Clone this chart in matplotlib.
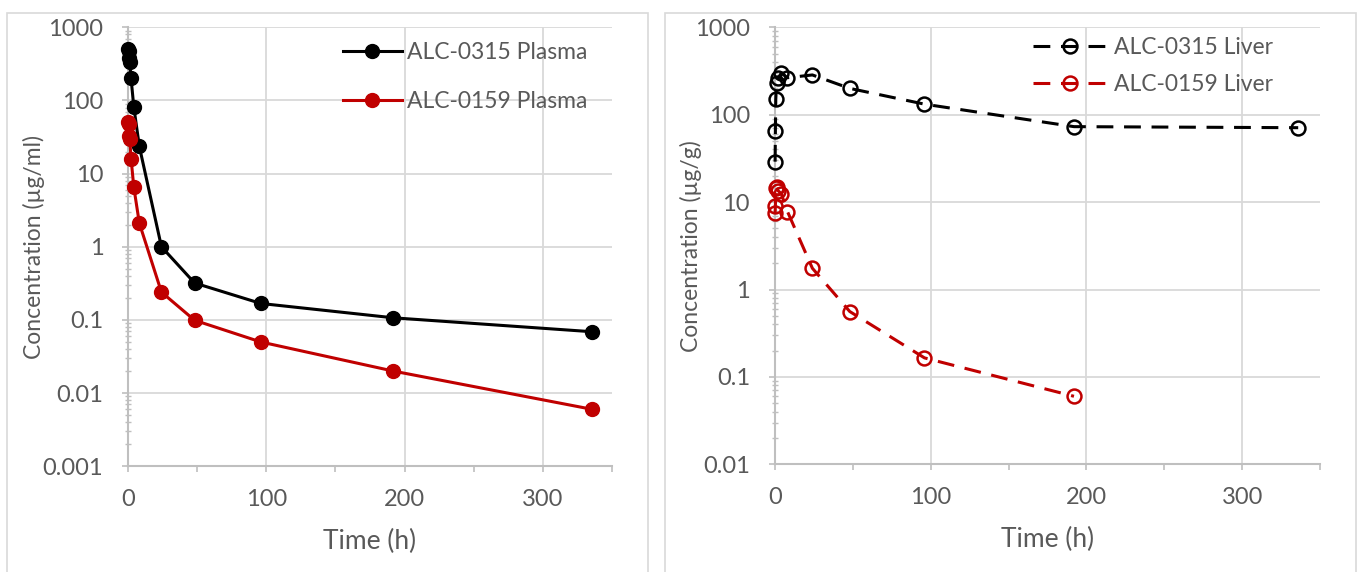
import matplotlib.pyplot as plt
from matplotlib.patches import Rectangle
from matplotlib.ticker import FixedLocator, LogLocator, NullFormatter, FuncFormatter

plt.rcParams['font.family'] = ['Lato', 'DejaVu Sans']

# --- data ---
# plasma, µg/ml
t_plasma = [0.08, 0.25, 0.5, 1, 2, 4, 8, 24, 48, 96, 192, 336]
alc0315_plasma = [500, 470, 380, 340, 200, 81, 23.5, 1.0, 0.32, 0.168, 0.107, 0.069]
alc0159_plasma = [50, 48, 33, 30, 16, 6.5, 2.1, 0.24, 0.099, 0.050, 0.020, 0.006]

# liver, µg/g
t_liver_0315 = [0.08, 0.25, 0.5, 1, 2, 4, 8, 24, 48, 96, 192, 336]
alc0315_liver = [29, 65, 150, 228, 260, 300, 265, 285, 200, 132, 73, 71]
t_liver_0159 = [0.08, 0.25, 0.5, 1, 2, 4, 8, 24, 48, 96, 192]
alc0159_liver = [7.5, 9, 14.5, 15, 13.5, 12.5, 7.8, 1.75, 0.56, 0.165, 0.06]

x_ticks = [0, 100, 200, 300]
x_minor = [50, 150, 250, 350]

BLACK = '#000000'
RED = '#C00000'
GRID = '#d9d9d9'
AXIS = '#bfbfbf'
TEXT = '#595959'

W, H = 1359, 572
fig = plt.figure(figsize=(W / 100, H / 100), dpi=100)


def fx(px):
    return px / W


def fy(py):
    return 1 - py / H


# panel frames (Excel chart areas)
for x0, x1 in [(7.3, 648.3), (665, 1356.3)]:
    fig.patches.append(Rectangle((fx(x0), fy(580)), fx(x1) - fx(x0), fy(12.7) - fy(580),
                                 transform=fig.transFigure, fill=False,
                                 edgecolor=GRID, linewidth=1.2))

ax1 = fig.add_axes([fx(128.3), fy(466.3), fx(611.7) - fx(128.3), fy(27.3) - fy(466.3)])
ax2 = fig.add_axes([fx(775), fy(464.3), fx(1320) - fx(775), fy(27.3) - fy(464.3)])


def style(ax, ymin, ylabel, ylab_x):
    ax.set_yscale('log')
    ax.set_xlim(0, 350)
    ax.set_ylim(ymin, 1000)
    ax.xaxis.set_major_locator(FixedLocator(x_ticks))
    ax.xaxis.set_minor_locator(FixedLocator(x_minor))
    ax.yaxis.set_major_locator(LogLocator(base=10))
    ax.yaxis.set_minor_locator(LogLocator(base=10, subs=range(2, 10)))
    ax.yaxis.set_minor_formatter(NullFormatter())
    ax.yaxis.set_major_formatter(FuncFormatter(lambda v, p: '%g' % v))
    ax.grid(True, which='major', color=GRID, linewidth=1.3)
    ax.set_axisbelow(True)
    for s in ['top', 'right']:
        ax.spines[s].set_visible(False)
    for s in ['left', 'bottom']:
        ax.spines[s].set_color(AXIS)
        ax.spines[s].set_linewidth(1.5)
    ax.tick_params(axis='both', which='major', colors=AXIS, labelcolor=TEXT,
                   labelsize=17, length=4, width=1.2, direction='out')
    ax.tick_params(axis='x', which='major', pad=12)
    ax.tick_params(axis='y', which='major', pad=14)
    ax.tick_params(axis='x', which='minor', colors=AXIS, length=4, width=1.2, direction='out')
    ax.tick_params(axis='y', which='minor', colors=AXIS, length=4, width=1, direction='inout')
    ax.set_xlabel('Time (h)', fontsize=19, color=TEXT)
    ax.set_ylabel(ylabel, fontsize=16.5, color=TEXT)
    ax.xaxis.set_label_coords(0.5, -0.143)
    ax.yaxis.set_label_coords(ylab_x, 0.5)


style(ax1, 0.001, 'Concentration (µg/ml)', -0.172)
style(ax2, 0.01, 'Concentration (µg/g)', -0.134)

# --- plasma panel ---
ax1.plot(t_plasma, alc0315_plasma, '-o', color=BLACK, linewidth=2.2, markersize=10,
         label='ALC-0315 Plasma', clip_on=False, zorder=3)
ax1.plot(t_plasma, alc0159_plasma, '-o', color=RED, linewidth=2.2, markersize=10,
         label='ALC-0159 Plasma', clip_on=False, zorder=3)
leg1 = ax1.legend(loc='upper left', bbox_to_anchor=(0.444, 0.966), frameon=False,
                  fontsize=16.5, handlelength=2.58, handletextpad=0.22, labelspacing=1.21,
                  borderpad=0, borderaxespad=0)
for t in leg1.get_texts():
    t.set_color(TEXT)

# --- liver panel ---
ax2.plot(t_liver_0315, alc0315_liver, '--o', color=BLACK, linewidth=2.2, dashes=(5.5, 3.5),
         markersize=10, markerfacecolor='none', markeredgewidth=1.8,
         label='ALC-0315 Liver', clip_on=False, zorder=3)
ax2.plot(t_liver_0159, alc0159_liver, '--o', color=RED, linewidth=2.2, dashes=(5.5, 3.5),
         markersize=10, markerfacecolor='none', markeredgewidth=1.8,
         label='ALC-0159 Liver', clip_on=False, zorder=3)
leg2 = ax2.legend(loc='upper left', bbox_to_anchor=(0.473, 0.977), frameon=False,
                  fontsize=16.5, handlelength=3.23, handletextpad=0.3, labelspacing=0.67,
                  borderpad=0, borderaxespad=0)
for t in leg2.get_texts():
    t.set_color(TEXT)

plt.savefig('out.png', dpi=100)
